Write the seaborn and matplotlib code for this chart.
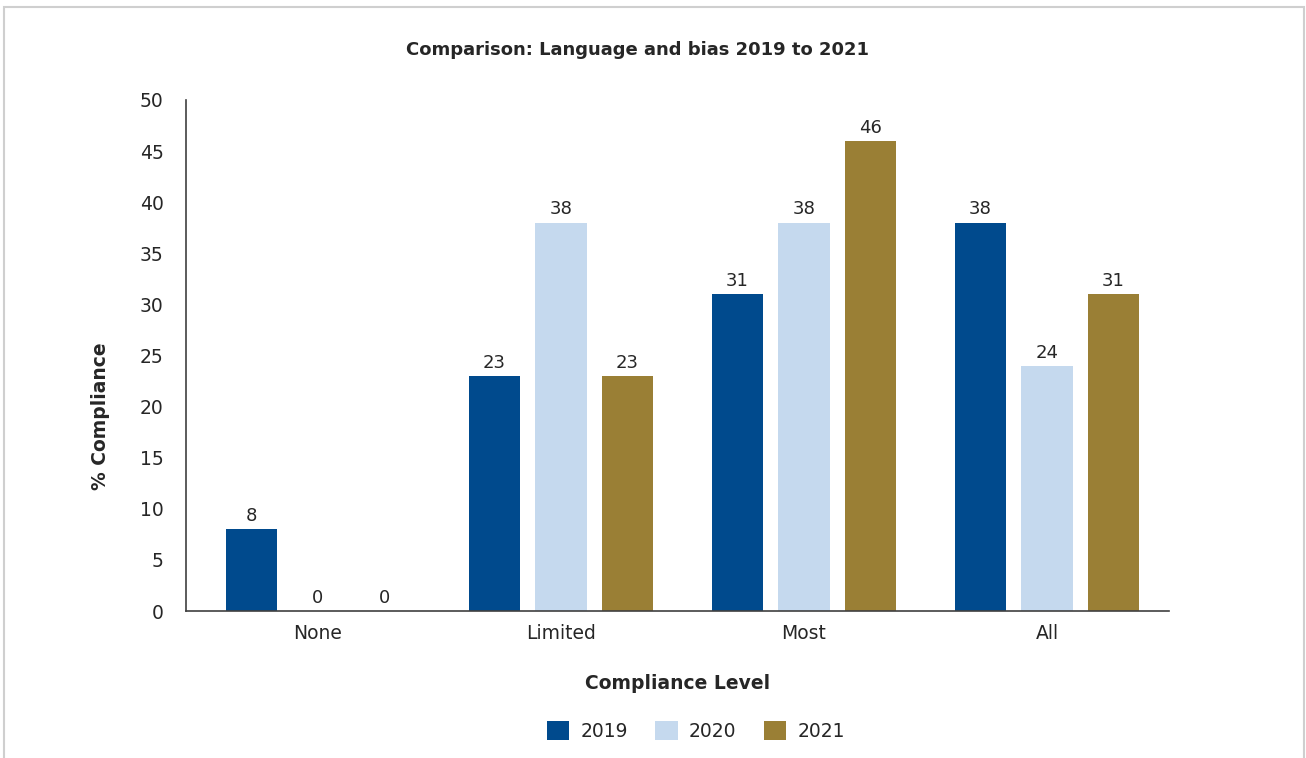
import matplotlib
matplotlib.use("Agg")
import matplotlib.pyplot as plt
from matplotlib.patches import Rectangle
import seaborn as sns
import pandas as pd

levels = ["None", "Limited", "Most", "All"]
years = ["2019", "2020", "2021"]
values_2019 = [8, 23, 31, 38]
values_2020 = [0, 38, 38, 24]
values_2021 = [0, 23, 46, 31]
colors = ["#004A8D", "#C5D9EE", "#9A7F35"]

df = pd.DataFrame({
    "level": levels * 3,
    "year": [y for y in years for _ in levels],
    "value": values_2019 + values_2020 + values_2021,
})

sns.set_theme(style="white")
plt.rcParams["font.family"] = ["DejaVu Sans"]
text_color = "#262626"

fig = plt.figure(figsize=(13.06, 7.58), dpi=100)
ax = fig.add_axes([0.1424, 0.1939, 0.7527, 0.6742])

sns.barplot(data=df, x="level", y="value", hue="year", order=levels,
            hue_order=years, palette=colors, width=0.822, gap=0.225,
            saturation=1, linewidth=0, ax=ax, legend=True)

for container in ax.containers:
    ax.bar_label(container, fmt="%d", padding=3, fontsize=13, color=text_color)

ax.set_ylim(0, 50)
ax.set_xlim(-0.543, 3.502)
ax.set_yticks(range(0, 51, 5))
ax.tick_params(axis="both", length=0, labelsize=13.5, labelcolor=text_color)
ax.tick_params(axis="y", pad=16)
ax.tick_params(axis="x", pad=9)
for s in ["top", "right"]:
    ax.spines[s].set_visible(False)
for s in ["left", "bottom"]:
    ax.spines[s].set_color("#404040")
    ax.spines[s].set_linewidth(1.2)

ax.set_xlabel("Compliance Level", fontsize=13.5, fontweight="bold", color=text_color, labelpad=23)
ax.set_ylabel("% Compliance", fontsize=13.5, fontweight="bold", color=text_color)
ax.yaxis.set_label_coords(-76 / 983, (611 - 416) / 511)

fig.text(0.4885, 1 - 50 / 758, "Comparison: Language and bias 2019 to 2021",
         ha="center", va="center", fontsize=13, fontweight="bold", color=text_color)

handles, labels = ax.get_legend_handles_labels()
ax.get_legend().remove()
fig.legend(handles, labels, loc="center", bbox_to_anchor=(696 / 1306, 1 - 731 / 758),
           ncol=3, frameon=False, fontsize=13.5, handlelength=1.2, handleheight=1.2,
           handletextpad=0.6, columnspacing=1.45, labelcolor=text_color)

fig.patches.append(Rectangle((4 / 1306, -0.05), 1300 / 1306, 1.05 - 7 / 758,
                             transform=fig.transFigure, fill=False,
                             edgecolor="#cfcfcf", linewidth=1.5))

fig.savefig("out.png", dpi=100, facecolor="white")
